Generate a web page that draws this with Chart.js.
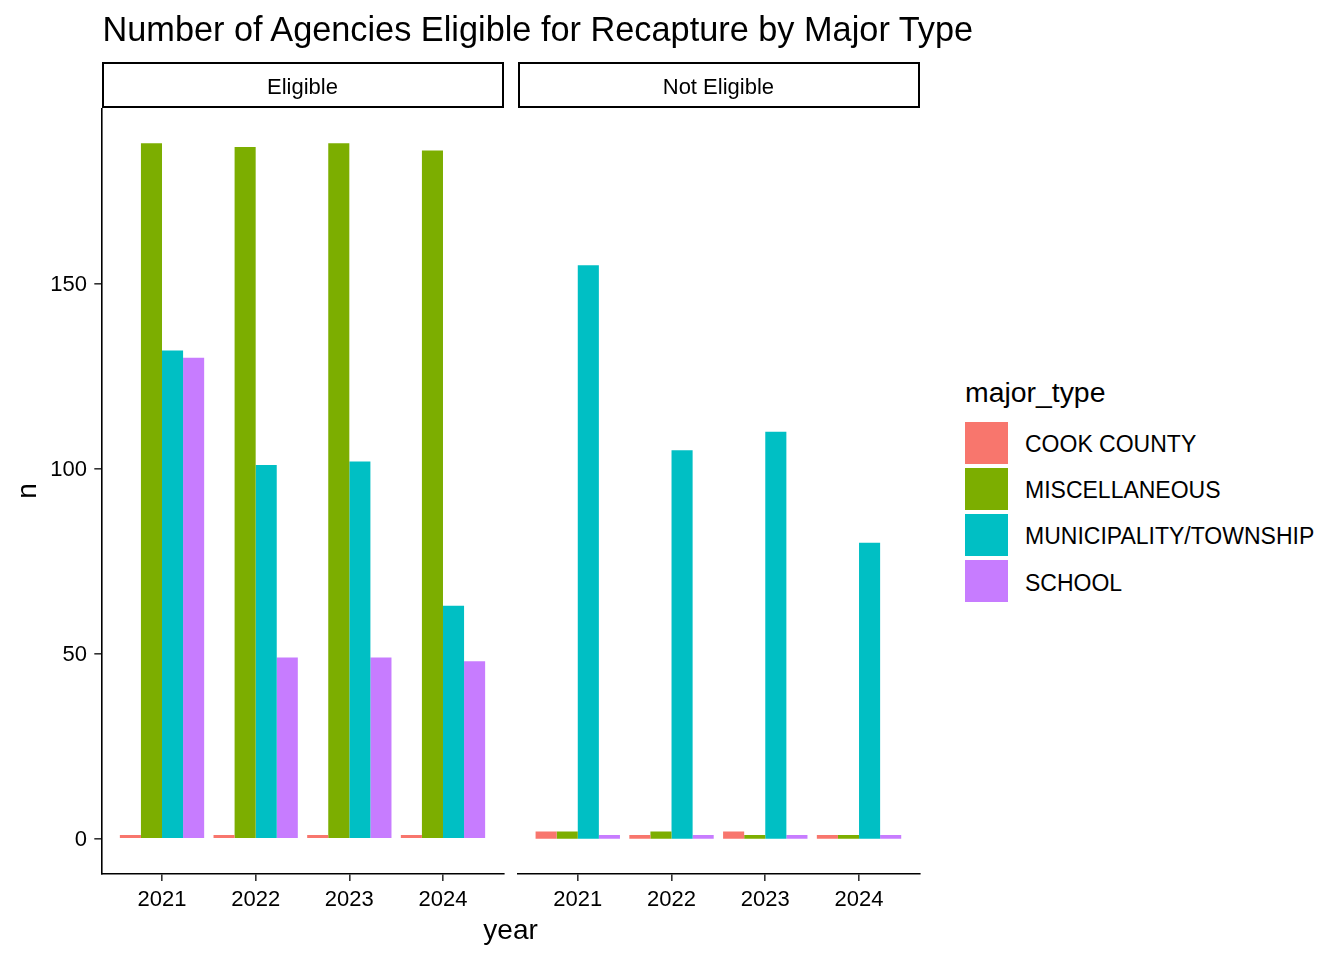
<!DOCTYPE html>
<html><head><meta charset="utf-8">
<script src="https://cdn.jsdelivr.net/npm/chart.js@4.4.1/dist/chart.umd.min.js"></script>
<style>
html,body{margin:0;padding:0;background:#fff;width:1344px;height:960px;overflow:hidden;font-family:'Liberation Sans',Arial,sans-serif;color:#000}
.txt{position:absolute;white-space:nowrap}
canvas{position:absolute}
.strip{position:absolute;box-sizing:border-box;border:2px solid #000;background:#fff}
.key{position:absolute;width:43px;height:42px}
</style></head><body>
<canvas id="c1" width="520" height="960" style="left:0;top:0"></canvas>
<canvas id="c2" width="430" height="960" style="left:510px;top:0"></canvas>
<div id="overlay"></div>
<script>
// ---- data ----
const years = ['2021', '2022', '2023', '2024'];
const majorTypes = ['COOK COUNTY', 'MISCELLANEOUS', 'MUNICIPALITY/TOWNSHIP', 'SCHOOL'];
const facets = ['Eligible', 'Not Eligible'];
const eligibleCook = [1, 1, 1, 1];
const eligibleMisc = [188, 187, 188, 186];
const eligibleMuni = [132, 101, 102, 63];
const eligibleSchool = [130, 49, 49, 48];
const notEligibleCook = [2, 1, 2, 1];
const notEligibleMisc = [2, 2, 1, 1];
const notEligibleMuni = [155, 105, 110, 80];
const notEligibleSchool = [1, 1, 1, 1];
const yTicks = [0, 50, 100, 150];
const typeColors = ['#F8766D', '#7CAE00', '#00BFC4', '#C77CFF'];

const FONT = "'Liberation Sans', Arial, sans-serif";
Chart.defaults.font.family = FONT;

// ggplot-like expansion
const allVals = [].concat(eligibleCook, eligibleMisc, eligibleMuni, eligibleSchool,
  notEligibleCook, notEligibleMisc, notEligibleMuni, notEligibleSchool, [0]);
const yLo = Math.min(...allVals), yHi = Math.max(...allVals);
const yMin = yLo - 0.05 * (yHi - yLo), yMax = yHi + 0.05 * (yHi - yLo);
const xMin = 0.55 - 0.05 * 3.9, xMax = 4.45 + 0.05 * 3.9;

function makeDatasets(series) {
  return series.map((vals, i) => ({
    label: majorTypes[i],
    data: vals.map((v, j) => ({ x: j + 1, y: v })),
    backgroundColor: typeColors[i],
    borderWidth: 0,
    categoryPercentage: 0.9,
    barPercentage: 1.0
  }));
}

function makeChart(id, series, showY, pad) {
  return new Chart(document.getElementById(id), {
    type: 'bar',
    data: { datasets: makeDatasets(series) },
    options: {
      responsive: false,
      animation: false,
      devicePixelRatio: 1,
      layout: { padding: pad },
      plugins: { legend: { display: false }, tooltip: { enabled: false } },
      scales: {
        x: {
          type: 'linear', min: xMin, max: xMax, offset: false,
          afterBuildTicks: s => { s.ticks = years.map((y, i) => ({ value: i + 1 })); },
          afterFit: s => { s.height = 960 - 873.6; },
          grid: { offset: false, drawOnChartArea: false, drawTicks: true, tickLength: 7.3, color: '#333', lineWidth: 1.6 },
          border: { display: true, color: '#000', width: 1.6 },
          ticks: { color: '#000', font: { size: 22, family: FONT }, padding: 5.5, maxRotation: 0, autoSkip: false,
            callback: v => years[Math.round(v) - 1] }
        },
        y: {
          type: 'linear', min: yMin, max: yMax, display: showY,
          afterBuildTicks: s => { s.ticks = yTicks.map(v => ({ value: v })); },
          afterFit: s => { s.width = showY ? 101.6 : 0; },
          grid: { drawOnChartArea: false, drawTicks: true, tickLength: 7.3, color: '#333', lineWidth: 1.6 },
          border: { display: true, color: '#000', width: 1.6 },
          ticks: { color: '#000', font: { size: 22, family: FONT }, padding: 7.4, labelOffset: 1.5,
            callback: v => String(v) }
        }
      }
    }
  });
}

const ch1 = makeChart('c1', [eligibleCook, eligibleMisc, eligibleMuni, eligibleSchool], true,
  { top: 108.4, left: 0, right: 520 - 503.4, bottom: 0 });
const ch2 = makeChart('c2', [notEligibleCook, notEligibleMisc, notEligibleMuni, notEligibleSchool], false,
  { top: 108.4, left: 7.3, right: 430 - 409.5, bottom: 0 });

// ---- text / decorations ----
const ov = document.getElementById('overlay');
function text(str, x, baseline, size, align, extra) {
  const d = document.createElement('div');
  d.className = 'txt';
  d.textContent = str;
  d.style.fontSize = size + 'px';
  d.style.lineHeight = size + 'px';
  d.style.top = (baseline - 0.8465 * size) + 'px';
  if (align === 'center') { d.style.left = (x - 500) + 'px'; d.style.width = '1000px'; d.style.textAlign = 'center'; }
  else d.style.left = x + 'px';
  if (extra) Object.assign(d.style, extra);
  ov.appendChild(d);
  return d;
}
// title
text('Number of Agencies Eligible for Recapture by Major Type', 102.5, 40.7, 34.3, 'left');
// strips
const a1 = ch1.chartArea, a2 = ch2.chartArea;
const panels = [[a1.left, a1.right], [510 + a2.left, 510 + a2.right]];
panels.forEach((p, i) => {
  const s = document.createElement('div');
  s.className = 'strip';
  s.style.left = (p[0] + 0.2) + 'px';
  s.style.top = '62.3px';
  s.style.width = (p[1] - p[0]) + 'px';
  s.style.height = '45.6px';
  ov.appendChild(s);
  text(facets[i], (p[0] + p[1]) / 2, 95, 22, 'center');
});
// axis titles
text('year', (panels[0][0] + panels[1][1]) / 2, 939.3, 28, 'center');
text('n', 27 - 50, 490.5 + 0.8465 * 28 - 14, 28, 'left',
  { width: '100px', textAlign: 'center', transform: 'rotate(-90deg)', transformOrigin: '50% 50%' });
// legend
text('major_type', 965, 402.3, 28.4, 'left');
const keyTops = [421.7, 467.8, 513.9, 560];
majorTypes.forEach((t, i) => {
  const k = document.createElement('div');
  k.className = 'key';
  k.style.left = '965px';
  k.style.top = keyTops[i] + 'px';
  k.style.background = typeColors[i];
  ov.appendChild(k);
  text(t, 1025, keyTops[i] + 31, 23, 'left');
});
</script>
</body></html>
